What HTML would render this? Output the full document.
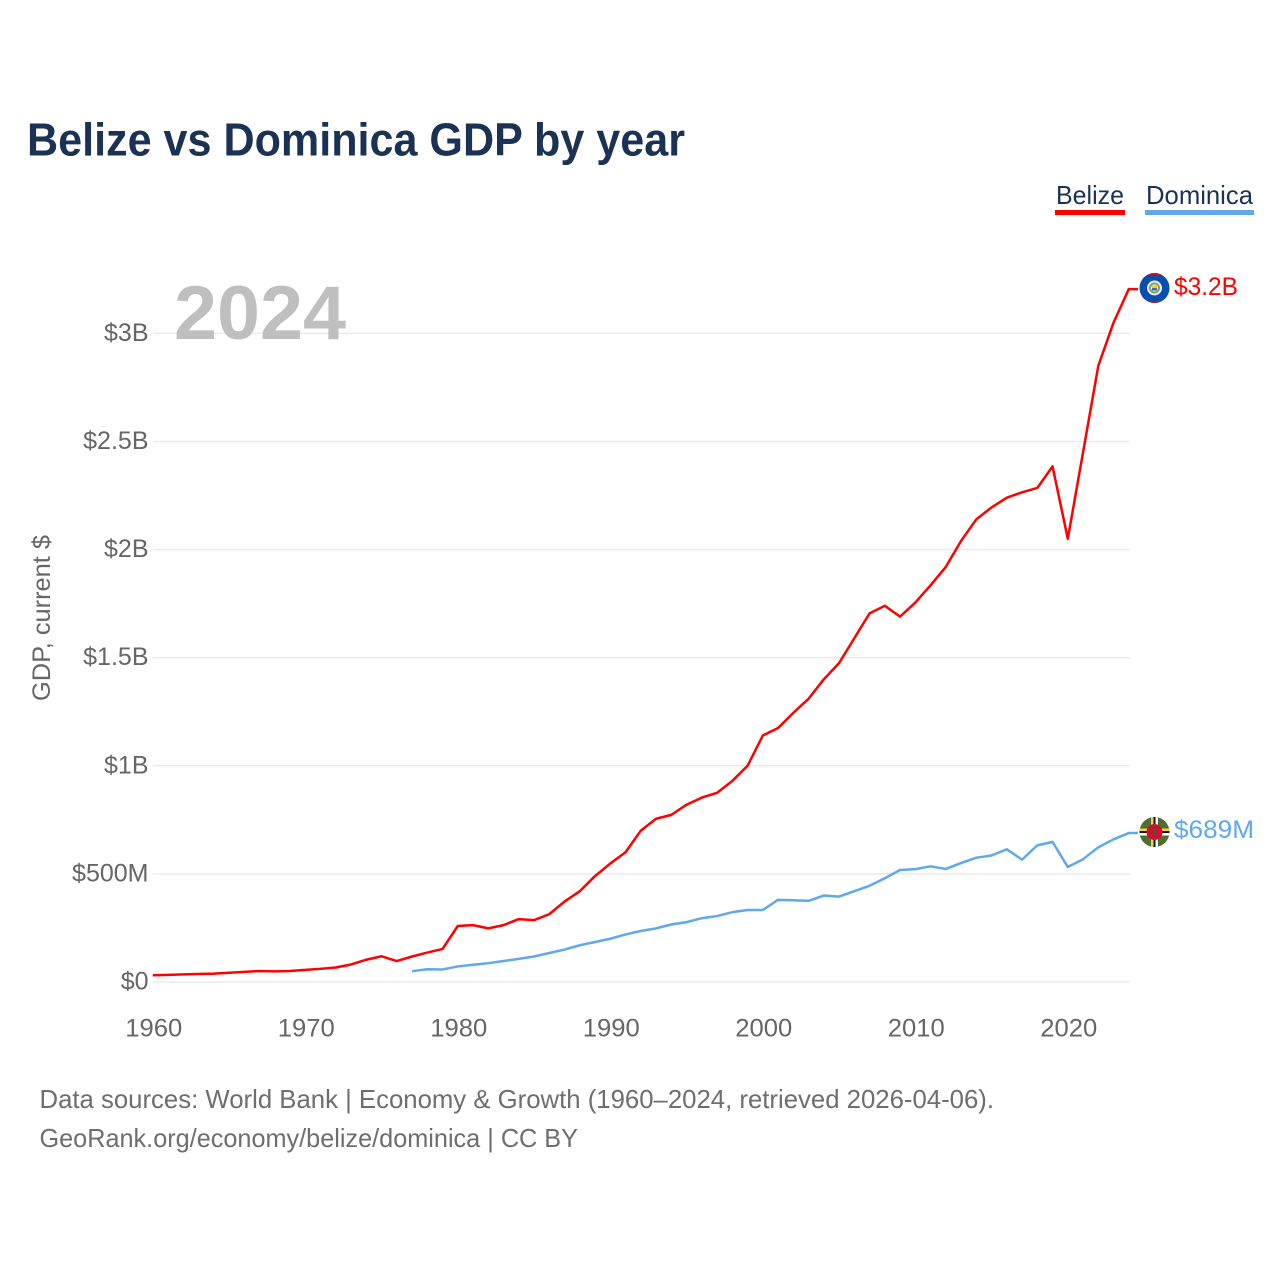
<!DOCTYPE html>
<html lang="en">
<head>
<meta charset="utf-8">
<title>Belize vs Dominica GDP by year</title>
<style>
html,body{margin:0;padding:0;background:#fff;width:1280px;height:1280px;overflow:hidden}
svg{display:block}
text{font-family:"Liberation Sans",sans-serif}
</style>
</head>
<body>
<svg id="chart" xmlns="http://www.w3.org/2000/svg" width="1280" height="1280" viewBox="0 0 1280 1280">
  <defs>
    <clipPath id="clip-belize"><circle cx="1154.5" cy="288" r="15"/></clipPath>
    <clipPath id="clip-dominica"><circle cx="1154.5" cy="832" r="15"/></clipPath>
  </defs>
  <text x="27" y="155.5" font-size="46" font-weight="bold" fill="#1a3354" textLength="658" lengthAdjust="spacingAndGlyphs">Belize vs Dominica GDP by year</text>

  <g>
    <g>
      <text x="1056" y="204" font-size="26" fill="#1a3354" textLength="68" lengthAdjust="spacingAndGlyphs">Belize</text>
      <rect x="1055" y="210" width="70" height="5" fill="#ff0000"/>
    </g>
    <g>
      <text x="1146" y="204" font-size="26" fill="#1a3354" textLength="107" lengthAdjust="spacingAndGlyphs">Dominica</text>
      <rect x="1145" y="210" width="109" height="5" fill="#5fa8ee"/>
    </g>
  </g>

  <g id="grid"></g>
  <text x="174" y="339" font-size="76" font-weight="bold" fill="#bfbfbf" textLength="172" lengthAdjust="spacingAndGlyphs">2024</text>
  <g id="yticks"></g>
  <g id="xticks"></g>
  <text transform="translate(50,701) rotate(-90)" font-size="25" fill="#666666" textLength="166" lengthAdjust="spacingAndGlyphs">GDP, current $</text>
  <g id="series"></g>

  <g clip-path="url(#clip-belize)">
    <rect x="1139" y="272" width="31" height="32" fill="#0a4db0"/>
    <rect x="1139" y="272" width="31" height="3" fill="#b01c2e"/>
    <rect x="1139" y="301" width="31" height="3" fill="#b01c2e"/>
    <circle cx="1154.5" cy="288" r="7.5" fill="#e8eef0"/>
    <circle cx="1154.5" cy="288" r="5.5" fill="#7fa06a"/>
    <circle cx="1154.5" cy="288" r="3.6" fill="#f0f0e0"/>
    <rect x="1152" y="285.5" width="5" height="2.5" fill="#f2c933"/>
    <rect x="1152" y="288" width="5" height="2.5" fill="#3f6db0"/>
  </g>
  <g clip-path="url(#clip-dominica)">
    <rect x="1139" y="816" width="31" height="32" fill="#4c6f2d"/>
    <rect x="1151" y="816" width="2.5" height="32" fill="#f5d63a"/>
    <rect x="1153.5" y="816" width="2" height="32" fill="#111111"/>
    <rect x="1155.5" y="816" width="2.5" height="32" fill="#ffffff"/>
    <rect x="1139" y="828.5" width="31" height="2.5" fill="#f5d63a"/>
    <rect x="1139" y="831" width="31" height="2" fill="#111111"/>
    <rect x="1139" y="833" width="31" height="2.5" fill="#ffffff"/>
    <circle cx="1154.5" cy="832" r="8" fill="#d01030"/>
    <rect x="1153.5" y="828" width="2.5" height="7" fill="#2f6a2a"/>
  </g>
  <text x="1174" y="295" font-size="25" fill="#ff0000" textLength="64" lengthAdjust="spacingAndGlyphs">$3.2B</text>
  <text x="1174" y="838" font-size="25" fill="#5fa8ee" textLength="80" lengthAdjust="spacingAndGlyphs">$689M</text>

  <text x="39.5" y="1108" font-size="26" fill="#6e6e6e" textLength="954.5" lengthAdjust="spacingAndGlyphs">Data sources: World Bank | Economy &amp; Growth (1960–2024, retrieved 2026-04-06).</text>
  <text x="39.5" y="1147" font-size="26" fill="#6e6e6e" textLength="538.5" lengthAdjust="spacingAndGlyphs">GeoRank.org/economy/belize/dominica | CC BY</text>
</svg>
<script>
const belizeStartYear = 1960;
const dominicaStartYear = 1977;
const belizeValues = [0.031,0.033,0.035,0.037,0.039,0.043,0.047,0.051,0.049,0.051,0.056,0.061,0.067,0.081,0.103,0.119,0.097,0.118,0.136,0.153,0.259,0.263,0.248,0.263,0.291,0.286,0.314,0.372,0.420,0.490,0.548,0.600,0.700,0.755,0.773,0.820,0.853,0.875,0.930,1.000,1.140,1.175,1.245,1.310,1.400,1.475,1.590,1.705,1.740,1.690,1.755,1.835,1.920,2.040,2.140,2.195,2.240,2.265,2.285,2.385,2.050,2.450,2.850,3.050,3.205];
const dominicaValues = [0.050,0.059,0.058,0.072,0.080,0.087,0.097,0.107,0.118,0.134,0.150,0.170,0.185,0.200,0.220,0.236,0.248,0.266,0.277,0.295,0.305,0.323,0.333,0.333,0.380,0.378,0.375,0.400,0.395,0.420,0.445,0.480,0.518,0.522,0.535,0.523,0.550,0.575,0.585,0.614,0.566,0.632,0.648,0.532,0.568,0.623,0.660,0.689];
const yTickValues = [0,0.5,1,1.5,2,2.5,3];
const yTickLabels = ['$0','$500M','$1B','$1.5B','$2B','$2.5B','$3B'];
const xTickYears = [1960,1970,1980,1990,2000,2010,2020];

const NS = 'http://www.w3.org/2000/svg';
const xScale = function (year) { return 152.8 + (year - 1960) * 15.25; };
const yScale = function (value) { return 982 - value * 216.2; };

const grid = document.getElementById('grid');
const yTicks = document.getElementById('yticks');
yTickValues.forEach(function (value, i) {
  const line = document.createElementNS(NS, 'line');
  
  
  line.setAttribute('x1', xScale(1960));
  line.setAttribute('x2', 1130);
  line.setAttribute('y1', yScale(value));
  line.setAttribute('y2', yScale(value));
  line.setAttribute('stroke', '#ebebeb');
  line.setAttribute('stroke-width', '1.5');
  grid.appendChild(line);

  const label = document.createElementNS(NS, 'text');
  
  
  label.setAttribute('x', 148.5);
  label.setAttribute('y', yScale(value) + 7.5);
  label.setAttribute('text-anchor', 'end');
  label.setAttribute('font-size', '25');
  label.setAttribute('fill', '#666666');
  label.textContent = yTickLabels[i];
  yTicks.appendChild(label);
});

const xTicks = document.getElementById('xticks');
xTickYears.forEach(function (year) {
  const label = document.createElementNS(NS, 'text');
  
  
  label.setAttribute('x', xScale(year) + 1);
  label.setAttribute('y', 1036.5);
  label.setAttribute('text-anchor', 'middle');
  label.setAttribute('font-size', '25');
  label.setAttribute('fill', '#666666');
  label.setAttribute('textLength', '57');
  label.setAttribute('lengthAdjust', 'spacingAndGlyphs');
  label.textContent = String(year);
  xTicks.appendChild(label);
});

const seriesGroup = document.getElementById('series');
function drawLine(values, startYear, color, name) {
  const parts = values.map(function (value, i) {
    return (i ? 'L' : 'M') + xScale(startYear + i).toFixed(2) + ' ' + yScale(value).toFixed(2);
  });
  const last = values[values.length - 1];
  parts.push('L1138 ' + yScale(last).toFixed(2));
  const path = document.createElementNS(NS, 'path');
  
  
  path.setAttribute('d', parts.join(' '));
  path.setAttribute('fill', 'none');
  path.setAttribute('stroke', color);
  path.setAttribute('stroke-width', '2.5');
  path.setAttribute('stroke-linejoin', 'round');
  seriesGroup.appendChild(path);
}
drawLine(belizeValues, belizeStartYear, '#ff0000', 'belize-line');
drawLine(dominicaValues, dominicaStartYear, '#5fa8ee', 'dominica-line');
</script>
</body>
</html>
